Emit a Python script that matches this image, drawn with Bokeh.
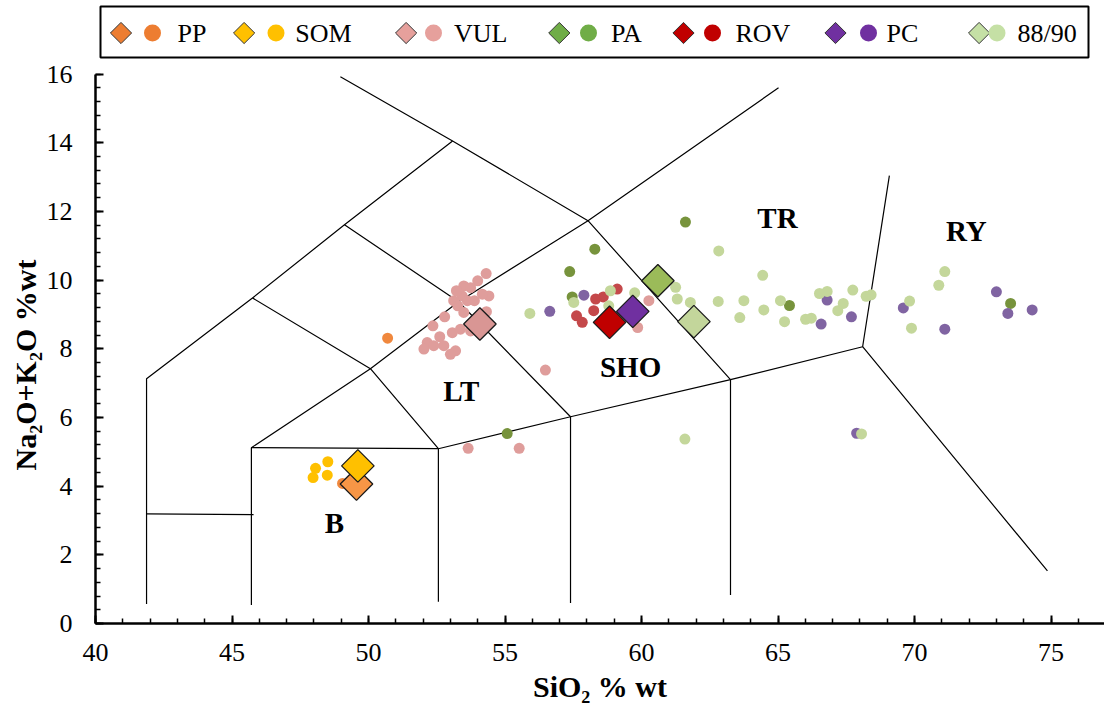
import numpy as np
from bokeh.plotting import figure
from bokeh.models import FixedTicker, Range1d, Title
from bokeh.embed import file_html
from bokeh.resources import INLINE
from bokeh.core.properties import value

# ---------------- data (SiO2 % wt, Na2O+K2O % wt) ----------------
series_names = ["PP", "SOM", "VUL", "PA", "ROV", "PC", "88/90"]

pp_sio2 = [50.70, 49.05]
pp_alk = [8.31, 4.08]

som_sio2 = [48.51, 48.06, 48.49, 47.97]
som_alk = [4.71, 4.52, 4.32, 4.25]

vul_sio2 = [54.31, 54.00, 53.49, 54.41, 54.17, 53.43, 53.12, 53.62, 53.27, 53.49,
            54.32, 52.79, 52.36, 53.07, 53.37, 52.61, 52.15, 52.39, 52.76, 53.19,
            53.00, 52.03, 53.74, 56.48, 53.65, 55.52, 60.27, 59.86, 53.74, 53.88,
            53.22]
vul_alk = [10.19, 9.98, 9.83, 9.54, 9.59, 9.54, 9.40, 9.40, 9.25, 9.06,
           9.08, 8.93, 8.67, 8.47, 8.57, 8.35, 8.18, 8.09, 8.09, 7.94,
           7.84, 7.99, 8.52, 7.38, 5.10, 5.10, 9.40, 8.62, 9.78, 9.40,
           9.69]

pa_sio2 = [58.29, 57.37, 57.46, 61.61, 65.42, 73.52, 55.08]
pa_alk = [10.90, 10.25, 9.51, 11.69, 9.26, 9.32, 5.53]

rov_sio2 = [59.11, 58.60, 58.32, 58.25, 57.62, 57.83]
rov_alk = [9.74, 9.51, 9.45, 9.11, 8.96, 8.77]

pc_sio2 = [57.89, 56.64, 66.80, 66.58, 67.69, 69.59, 71.11, 73.00, 73.42, 74.31, 67.88]
pc_alk = [9.56, 9.09, 9.42, 8.72, 8.93, 9.19, 8.57, 9.66, 9.03, 9.13, 5.54]

s8890_sio2 = [55.91, 58.86, 57.52, 58.80, 59.75, 61.25, 61.31, 61.79, 62.83, 62.81,
              64.44, 63.75, 63.60, 64.48, 65.09, 65.24, 66.01, 66.22, 66.52, 66.80,
              67.19, 67.39, 67.74, 68.23, 68.41, 69.82, 69.89, 70.89, 71.11, 61.59,
              68.06]
s8890_alk = [9.03, 9.69, 9.35, 9.25, 9.63, 9.79, 9.45, 9.35, 10.85, 9.38,
             10.14, 9.40, 8.91, 9.13, 9.40, 8.79, 8.86, 8.89, 9.61, 9.67,
             9.11, 9.32, 9.71, 9.53, 9.57, 9.39, 8.60, 9.85, 10.25, 5.37,
             5.52]

# mean composition of each group (diamonds)
mean_sio2 = [49.56, 49.61, 54.08, 60.60, 58.83, 59.68, 61.92]
mean_alk = [4.06, 4.59, 8.72, 9.98, 8.77, 9.09, 8.79]

x_tick_values = [40, 45, 50, 55, 60, 65, 70, 75]
y_tick_values = [0, 2, 4, 6, 8, 10, 12, 14, 16]

field_names = ["TR", "RY", "SHO", "LT", "B"]
field_sio2 = [64.98, 71.90, 59.60, 53.40, 48.75]
field_alk = [11.81, 11.43, 7.47, 6.77, 2.94]

# TAS classification boundaries (as drawn)
boundary_sio2 = [
    [41.87, 41.87, 45.75, 49.12, 53.08],
    [48.97, 53.08, 58.04, 63.26],
    [41.87, 45.79],
    [45.71, 45.71, 52.56, 57.40, 63.26, 68.10, 74.87],
    [45.71, 50.07, 53.30, 58.04, 65.02],
    [45.75, 50.07, 52.56],
    [49.12, 53.30, 57.40],
    [52.56, 52.56],
    [57.40, 57.40],
    [63.26, 63.26],
    [68.10, 69.08],
]
boundary_alk = [
    [0.57, 7.13, 9.48, 11.61, 14.05],
    [15.92, 14.05, 11.73, 7.10],
    [3.19, 3.17],
    [0.54, 5.12, 5.09, 6.02, 7.10, 8.06, 1.53],
    [5.12, 7.42, 9.37, 11.73, 15.60],
    [9.48, 7.42, 5.09],
    [11.61, 9.37, 6.02],
    [5.09, 0.63],
    [6.02, 0.60],
    [7.10, 0.83],
    [8.06, 13.04],
]

# ---------------- styles / layout ----------------
circle_colors = ["#F0883E", "#FFC000", "#DF9D9B", "#77933C", "#C4484A", "#8064A2", "#C4D79B"]
diamond_colors = ["#F79646", "#FFC000", "#D99694", "#9BBB59", "#C00000", "#7030A0", "#C3D69B"]
legend_colors = ["#ED7D31", "#FFC000", "#E6A09C", "#70AD47", "#C00000", "#7030A0", "#C5E0A5"]

W, H = 1104, 724
FRAME_LEFT, FRAME_BOTTOM = 95, 623
PX_X, PX_Y = 27.3, 34.34   # pixels per data unit


def dx(px):
    return 40 + (px - FRAME_LEFT) / PX_X


def dy(py):
    return (FRAME_BOTTOM - py) / PX_Y


FONT = "Liberation Serif"

p = figure(width=W, height=H, output_backend="svg", toolbar_location=None,
           x_range=Range1d(40, dx(W)), y_range=Range1d(0, dy(0)),
           min_border_left=FRAME_LEFT, min_border_right=0, min_border_top=0,
           min_border_bottom=H - FRAME_BOTTOM,
           outline_line_color=None, background_fill_color="white",
           border_fill_color="white")
p.grid.visible = False

# axes
p.xaxis.ticker = FixedTicker(ticks=x_tick_values,
                             minor_ticks=list(range(x_tick_values[0], 77)))
p.yaxis.ticker = FixedTicker(ticks=y_tick_values,
                             minor_ticks=[round(v * 0.4, 1) for v in range(0, 41)])
p.yaxis.bounds = (y_tick_values[0], y_tick_values[-1])
for ax in (p.xaxis[0], p.yaxis[0]):
    ax.axis_line_color = "black"
    ax.axis_line_width = 2.5
    ax.major_tick_in = 8
    ax.major_tick_out = 0
    ax.minor_tick_in = 5
    ax.minor_tick_out = 0
    ax.major_tick_line_width = 2
    ax.minor_tick_line_width = 1.5
    ax.major_tick_line_color = "black"
    ax.minor_tick_line_color = "black"
    ax.major_label_text_font = FONT
    ax.major_label_text_font_size = "26px"
    ax.major_label_text_color = "black"
p.yaxis.major_label_standoff = 23
p.xaxis.major_label_standoff = 20
p.xaxis.axis_label = "SiO\u2082 % wt"
p.xaxis.axis_label_text_font = FONT
p.xaxis.axis_label_text_font_style = "bold"
p.xaxis.axis_label_text_font_size = "30px"
p.xaxis.axis_label_text_color = "black"
p.xaxis.axis_label_standoff = 6

ytitle = Title(text="Na\u2082O+K\u2082O %wt", align="left", offset=153,
               text_font=FONT, text_font_style="bold", text_font_size="30px",
               text_color="black", standoff=4)
p.add_layout(ytitle, "left")

# classification boundaries
p.multi_line(xs=boundary_sio2, ys=boundary_alk, line_color="black", line_width=1.2)

# field names
p.text(x=field_sio2, y=field_alk, text=field_names, text_align="center",
       text_baseline="middle", text_font=value(FONT), text_font_style="bold",
       text_font_size=value("29px"), text_color="black")

# sample points
groups_x = [pp_sio2, som_sio2, vul_sio2, pa_sio2, rov_sio2, pc_sio2, s8890_sio2]
groups_y = [pp_alk, som_alk, vul_alk, pa_alk, rov_alk, pc_alk, s8890_alk]
for gx, gy, c in zip(groups_x, groups_y, circle_colors):
    p.scatter(x=gx, y=gy, marker="circle", size=11, fill_color=c, line_color=None)

# group means (diamonds)
for i in range(len(series_names)):
    p.scatter(x=[mean_sio2[i]], y=[mean_alk[i]], marker="square", angle=np.pi / 4,
              size=23, fill_color=diamond_colors[i], line_color="#1a1a1a", line_width=1.3)

# ---------------- legend (drawn at top) ----------------
leg_box = (100, 1088, 6, 57)
leg_cy = 32.5
leg_diamond_px = [120.5, 243.6, 405.6, 558.8, 683, 835, 978.6]
leg_circle_px = [152, 275.5, 433, 588, 712, 868, 996.5]
leg_text_px = [177, 294.7, 453.5, 610.5, 735, 886, 1017]

p.quad(left=[dx(leg_box[0])], right=[dx(leg_box[1])], top=[dy(leg_box[2])],
       bottom=[dy(leg_box[3])], fill_color="white", line_color="black", line_width=2)
p.scatter(x=[dx(v) for v in leg_diamond_px], y=[dy(leg_cy)] * 7, marker="square",
          angle=np.pi / 4, size=15, fill_color=legend_colors, line_color="#333333",
          line_width=1)
p.scatter(x=[dx(v) for v in leg_circle_px], y=[dy(leg_cy)] * 7, marker="circle",
          size=17, fill_color=legend_colors, line_color=None)
p.text(x=[dx(v) for v in leg_text_px], y=[dy(leg_cy)] * 7, text=series_names,
       text_align="left", text_baseline="middle", text_font=value(FONT),
       text_font_size=value("26px"), text_color="black")

open("out.html", "w").write(file_html(p, INLINE))
